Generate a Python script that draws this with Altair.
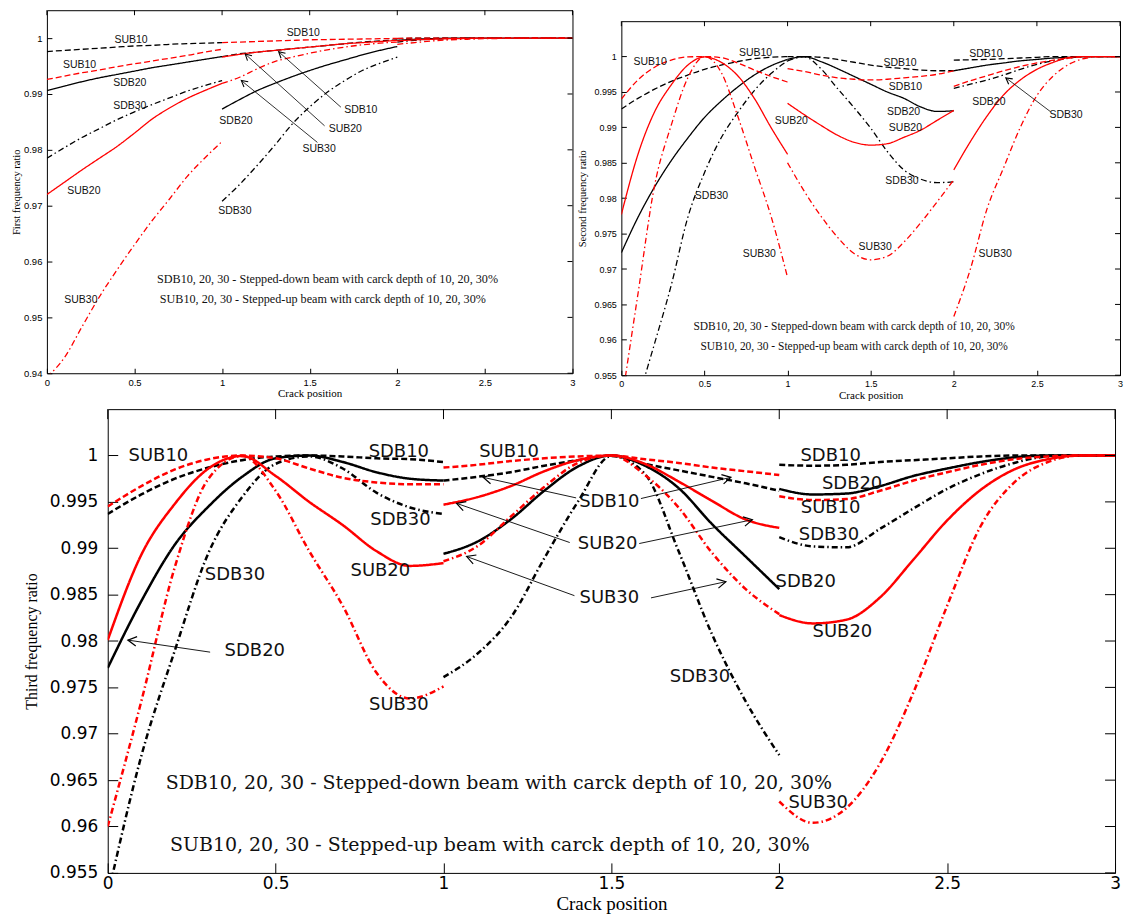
import math
import altair as alt
import pandas as pd

# ---------------- data ----------------
X_SEG1 = [0.0, 0.1, 0.2, 0.3, 0.4, 0.5, 0.6, 0.7, 0.8, 0.9, 1.0]
X_SEG2 = [1.0, 1.1, 1.2, 1.3, 1.4, 1.5, 1.6, 1.7, 1.8, 1.9, 2.0]
X_SEG3 = [2.0, 2.1, 2.2, 2.3, 2.4, 2.5, 2.6, 2.7, 2.8, 2.9, 3.0]
X_TICKS = [0, 0.5, 1, 1.5, 2, 2.5, 3]
Y_TICKS_1 = [0.94, 0.95, 0.96, 0.97, 0.98, 0.99, 1.0]
Y_TICKS_23 = [0.955, 0.96, 0.965, 0.97, 0.975, 0.98, 0.985, 0.99, 0.995, 1.0]
SERIES = ["SDB10", "SDB20", "SDB30", "SUB10", "SUB20", "SUB30"]

# First frequency ratio (segments 0-1, 1-2, 2-3)
F1_SDB10 = [0.9976, 0.9978, 0.9980, 0.9982, 0.9984, 0.9986, 0.9987, 0.9989, 0.9990, 0.9991, 0.9992,
            0.9967, 0.9972, 0.9975, 0.9978, 0.9981, 0.9984, 0.9987, 0.9990, 0.9993, 0.9995, 0.9997,
            0.9999, 1.0, 1.0, 1.0, 1.0, 1.0, 1.0, 1.0, 1.0, 1.0, 1.0]
F1_SDB20 = [0.9906, 0.9914, 0.9922, 0.9929, 0.9935, 0.9941, 0.9947, 0.9952, 0.9957, 0.9962, 0.9967,
            0.9873, 0.9890, 0.9906, 0.9919, 0.9931, 0.9942, 0.9952, 0.9961, 0.9970, 0.9978, 0.9985,
            0.9996, 0.9998, 0.9999, 1.0, 1.0, 1.0, 1.0, 1.0, 1.0, 1.0, 1.0]
F1_SDB30 = [0.9785, 0.9804, 0.9822, 0.9838, 0.9854, 0.9868, 0.9881, 0.9893, 0.9905, 0.9915, 0.9924,
            0.9708, 0.9738, 0.9772, 0.9808, 0.9846, 0.9877, 0.9903, 0.9924, 0.9942, 0.9955, 0.9966,
            0.9993, 0.9996, 0.9998, 0.9999, 1.0, 1.0, 1.0, 1.0, 1.0, 1.0, 1.0]
F1_SUB10 = [0.9926, 0.9932, 0.9938, 0.9943, 0.9949, 0.9954, 0.9959, 0.9964, 0.9969, 0.9975, 0.9980,
            0.9992, 0.9993, 0.9994, 0.9995, 0.9996, 0.9997, 0.99975, 0.9998, 0.99985, 0.9999, 0.99995,
            0.99995, 1.0, 1.0, 1.0, 1.0, 1.0, 1.0, 1.0, 1.0, 1.0, 1.0]
F1_SUB20 = [0.9720, 0.9742, 0.9764, 0.9785, 0.9806, 0.9830, 0.9855, 0.9875, 0.9892, 0.9906, 0.9919,
            0.9966, 0.9971, 0.9975, 0.9978, 0.9981, 0.9984, 0.9987, 0.9990, 0.9992, 0.9994, 0.9996,
            0.9995, 0.9997, 0.9998, 0.9999, 0.99995, 1.0, 1.0, 1.0, 1.0, 1.0, 1.0]
F1_SUB30 = [0.9393, 0.9428, 0.9483, 0.9537, 0.9585, 0.9630, 0.9673, 0.9712, 0.9752, 0.9785, 0.9815,
            0.9919, 0.9930, 0.9945, 0.9958, 0.9966, 0.9973, 0.9979, 0.9984, 0.9988, 0.9991, 0.9993,
            0.9989, 0.9992, 0.9995, 0.9997, 0.9998, 0.9999, 0.99995, 1.0, 1.0, 1.0, 1.0]

# Second frequency ratio
F2_SDB10 = [0.9926, 0.9941, 0.9954, 0.9965, 0.9974, 0.9982, 0.9988, 0.9993, 0.9997, 0.9999, 1.0,
            1.0, 1.0, 0.9999, 0.9996, 0.9992, 0.9988, 0.9985, 0.9983, 0.9981, 0.9980, 0.9980,
            0.9995, 0.99955, 0.9996, 0.9997, 0.9998, 0.9999, 1.0, 1.0, 1.0, 1.0, 1.0]
F2_SDB20 = [0.9723, 0.9773, 0.9816, 0.9853, 0.9885, 0.9914, 0.9937, 0.9957, 0.9974, 0.9987, 0.9996,
            0.9996, 1.0, 0.9993, 0.9983, 0.9972, 0.9961, 0.9950, 0.9941, 0.9929, 0.99225, 0.99235,
            0.9980, 0.9984, 0.9988, 0.9991, 0.9994, 0.9996, 0.9998, 0.9999, 1.0, 1.0, 1.0]
F2_SDB30 = [0.9430, 0.9515, 0.9595, 0.9677, 0.9773, 0.9836, 0.9885, 0.9921, 0.9952, 0.9976, 0.9994,
            0.9994, 0.99995, 0.9983, 0.9955, 0.9928, 0.9899, 0.9866, 0.9840, 0.9827, 0.9822, 0.9823,
            0.9955, 0.9961, 0.9967, 0.9974, 0.9982, 0.9989, 0.9994, 0.9998, 1.0, 1.0, 1.0]
F2_SUB10 = [0.9940, 0.9967, 0.9985, 0.9995, 0.99995, 1.0, 0.99985, 0.9991, 0.9981, 0.9972, 0.9964,
            0.9983, 0.9979, 0.9974, 0.9970, 0.9968, 0.9967, 0.9968, 0.9970, 0.9972, 0.9975, 0.9980,
            0.9958, 0.9966, 0.9973, 0.9980, 0.9986, 0.9991, 0.9995, 0.9998, 1.0, 1.0, 1.0]
F2_SUB20 = [0.9777, 0.9862, 0.9922, 0.9960, 0.9988, 0.99995, 0.9992, 0.9973, 0.9941, 0.9900, 0.9862,
            0.9934, 0.9918, 0.9903, 0.9889, 0.9879, 0.9875, 0.9877, 0.9886, 0.9896, 0.9910, 0.9924,
            0.9840, 0.9880, 0.9916, 0.9946, 0.9967, 0.9982, 0.9992, 0.9999, 1.0, 1.0, 1.0]
F2_SUB30 = [0.9510, 0.9665, 0.9818, 0.9903, 0.9970, 1.0, 0.9978, 0.9916, 0.9845, 0.9775, 0.9688,
            0.9850, 0.9810, 0.9775, 0.9745, 0.9722, 0.9713, 0.9718, 0.9738, 0.9765, 0.9795, 0.9826,
            0.9633, 0.9700, 0.9785, 0.9843, 0.9900, 0.9945, 0.9973, 0.9990, 0.9998, 1.0, 1.0]

# Third frequency ratio
F3_SDB10 = [0.9937, 0.9958, 0.9975, 0.9987, 0.9995, 0.9999, 1.0, 0.9999, 0.9997, 0.9996, 0.9993,
            0.9973, 0.9977, 0.9982, 0.9989, 0.9995, 1.0, 0.9991, 0.9984, 0.9977, 0.9970, 0.9962,
            0.9990, 0.9989, 0.9990, 0.9993, 0.9995, 0.9997, 0.9999, 1.0, 1.0, 1.0, 1.0]
F3_SDB20 = [0.9771, 0.9843, 0.9904, 0.9945, 0.9977, 0.9997, 1.0, 0.9993, 0.9982, 0.9975, 0.9973,
            0.9894, 0.9907, 0.9931, 0.9962, 0.9988, 1.0, 0.9989, 0.9965, 0.9926, 0.9891, 0.9856,
            0.9964, 0.9958, 0.9959, 0.9967, 0.9978, 0.9986, 0.9993, 0.9998, 1.0, 1.0, 1.0]
F3_SDB30 = [0.9525, 0.9676, 0.9790, 0.9895, 0.9955, 0.9991, 0.9999, 0.9986, 0.9960, 0.9944, 0.9937,
            0.9761, 0.9786, 0.9825, 0.9889, 0.9950, 0.99995, 0.9980, 0.9897, 0.9807, 0.9735, 0.9677,
            0.9912, 0.9902, 0.9901, 0.9921, 0.9943, 0.9964, 0.9980, 0.9992, 0.9999, 1.0, 1.0]
F3_SUB10 = [0.9945, 0.9967, 0.9985, 0.9996, 1.0, 0.9997, 0.9986, 0.9976, 0.9971, 0.9969, 0.9969,
            0.9987, 0.9990, 0.9994, 0.9997, 0.9999, 1.0, 0.9996, 0.9992, 0.9987, 0.9983, 0.9979,
            0.9956, 0.9952, 0.9953, 0.9962, 0.9973, 0.9982, 0.9990, 0.9996, 0.9999, 1.0, 1.0]
F3_SUB20 = [0.9801, 0.9893, 0.9948, 0.9986, 0.99995, 0.9978, 0.9950, 0.9925, 0.9897, 0.9881, 0.9884,
            0.9947, 0.9955, 0.9967, 0.9983, 0.9995, 1.0, 0.9991, 0.9972, 0.9951, 0.9931, 0.9922,
            0.9828, 0.9819, 0.9823, 0.9847, 0.9888, 0.9930, 0.9963, 0.9985, 0.9996, 1.0, 1.0]
F3_SUB30 = [0.9600, 0.9735, 0.9880, 0.9975, 0.99995, 0.9962, 0.9897, 0.9838, 0.9766, 0.9738, 0.9751,
            0.9886, 0.9902, 0.9934, 0.9966, 0.9992, 1.0, 0.9979, 0.9944, 0.9895, 0.9856, 0.9829,
            0.9627, 0.9604, 0.9620, 0.9668, 0.9745, 0.9838, 0.9924, 0.9971, 0.9993, 1.0, 1.0]

CAPTION_1 = "SDB10, 20, 30 - Stepped-down beam with carck depth of 10, 20, 30%"
CAPTION_2 = "SUB10, 20, 30 - Stepped-up beam with carck depth of 10, 20, 30%"

LABELS_1 = [("SUB10", 0.48, 0.99964), ("SUB10", 0.186, 0.99518), ("SDB20", 0.473, 0.99204),
            ("SDB30", 0.473, 0.98787), ("SUB20", 0.211, 0.9727), ("SUB30", 0.194, 0.95308),
            ("SDB10", 1.463, 1.00096), ("SDB20", 1.079, 0.98508), ("SDB30", 1.073, 0.96913),
            ("SDB10", 1.792, 0.98705), ("SUB20", 1.703, 0.98377), ("SUB30", 1.554, 0.9802)]
CAPTIONS_1 = [(CAPTION_1, 1.602, 0.95695), (CAPTION_2, 1.575, 0.95326)]
ARROWS_1 = [(1.678, 0.98764, 1.323, 0.99757), (1.585, 0.98430, 1.132, 0.99715),
            (1.544, 0.98133, 1.110, 0.99240)]

LABELS_2 = [("SUB10", 0.173, 0.99930), ("SUB10", 0.807, 1.00056), ("SDB10", 1.677, 0.99911),
            ("SDB10", 1.709, 0.9957), ("SDB20", 1.698, 0.99213), ("SUB20", 1.709, 0.98997),
            ("SUB20", 1.022, 0.99086), ("SDB30", 1.688, 0.98242), ("SDB30", 0.542, 0.98031),
            ("SUB30", 0.83, 0.97216), ("SUB30", 1.527, 0.97314), ("SUB30", 2.249, 0.97216),
            ("SDB10", 2.193, 1.00038), ("SDB20", 2.211, 0.99353), ("SDB30", 2.675, 0.9917)]
CAPTIONS_2 = [(CAPTION_1, 1.40, 0.96185), (CAPTION_2, 1.40, 0.95904)]
ARROWS_2 = [(2.584, 0.99218, 2.313, 0.99700)]

LABELS_3 = [("SUB10", 0.151, 0.99993), ("SDB10", 0.867, 1.00038), ("SUB10", 1.195, 1.00038),
            ("SDB30", 0.872, 0.99302), ("SDB30", 0.379, 0.98709), ("SUB20", 0.812, 0.98755),
            ("SDB20", 0.438, 0.97893), ("SUB30", 0.867, 0.97307), ("SDB10", 1.494, 0.99494),
            ("SUB20", 1.489, 0.99051), ("SUB30", 1.494, 0.98465), ("SDB10", 2.153, 0.99993),
            ("SDB20", 2.217, 0.99694), ("SUB10", 2.153, 0.99438), ("SDB30", 2.148, 0.99143),
            ("SDB20", 2.079, 0.98633), ("SUB20", 2.188, 0.98096), ("SDB30", 1.764, 0.97614),
            ("SUB30", 2.116, 0.9625)]
CAPTIONS_3 = [(CAPTION_1, 1.165, 0.9647), (CAPTION_2, 1.138, 0.95805)]
ARROWS_3 = [(0.305, 0.9788, 0.06, 0.9801), (1.395, 0.99543, 1.118, 0.99765),
            (1.588, 0.99536, 1.856, 0.99765), (1.376, 0.99062, 1.039, 0.99484),
            (1.583, 0.99051, 1.920, 0.99308), (1.390, 0.98489, 1.069, 0.98911),
            (1.618, 0.98465, 1.841, 0.98640)]

STYLE = {"10": "dashed", "20": "solid", "30": "dashdot"}
ARROW_PATH = "M -1 -0.55 L 0 0 L -1 0.55"
YMAX = 1.005


def line_frame(arrs):
    rows = []
    for name, ys in zip(SERIES, arrs):
        for k, xs in enumerate([X_SEG1, X_SEG2, X_SEG3]):
            for x, y in zip(xs, ys[k * 11:(k + 1) * 11]):
                rows.append({"beam": name[:3], "style": STYLE[name[3:]],
                             "seg": f"{name}_{k}", "x": x, "y": y})
    return pd.DataFrame(rows)


def make_panel(arrs, labels, captions, arrows, c):
    W, H, ymin = c["W"], c["H"], c["ymin"]
    xs = alt.Scale(domain=[0, 3], nice=False, zero=False)
    ysc = alt.Scale(domain=[ymin, YMAX], nice=False, zero=False)
    ts = c["ts"]
    df = line_frame(arrs)
    dash_scale = alt.Scale(domain=["solid", "dashed", "dashdot"],
                           range=[[1, 0], c["dash"], c["dashdot"]])
    xax = alt.Axis(orient="bottom", values=X_TICKS, format=".3~f", title="Crack position",
                   offset=-ts, tickSize=ts, domain=False, grid=False, tickColor="black",
                   labelFont=c["tfont"], labelFontSize=c["tsize"], labelColor="black",
                   labelPadding=c["xpad"], labelFlush=False, labelOverlap=False,
                   titleFont="Liberation Serif", titleFontSize=c["xtsize"], titleFontWeight="normal",
                   titleColor="black", titlePadding=c["xtpad"])
    yax = alt.Axis(orient="left", values=c["yticks"], format=".3~f", title=c["ytitle"],
                   offset=-ts, tickSize=ts, domain=False, grid=False, tickColor="black",
                   labelFont=c["tfont"], labelFontSize=c["tsize"], labelColor="black",
                   labelPadding=c["ypad"], labelFlush=False, labelOverlap=False,
                   titleFont="Liberation Serif", titleFontSize=c["ytsize"], titleFontWeight="normal",
                   titleColor="black", titlePadding=c["ytpad"])

    def lines(beam, color, with_axes):
        return alt.Chart(df[df["beam"] == beam]).mark_line(
            clip=True, color=color, strokeWidth=c["lw"], interpolate="monotone"
        ).encode(
            x=alt.X("x:Q", scale=xs, axis=xax if with_axes else None),
            y=alt.Y("y:Q", scale=ysc, axis=yax if with_axes else None),
            strokeDash=alt.StrokeDash("style:N", scale=dash_scale, legend=None),
            detail="seg:N",
        )

    black = lines("SDB", "#000000", True)
    red = lines("SUB", "#ff0000", False)

    # inward ticks on the top and right frame edges
    top_ticks = alt.Chart(pd.DataFrame({"v": X_TICKS})).mark_rule(
        color="black", strokeWidth=1).encode(
        x=alt.X("v:Q", scale=xs, axis=None), y=alt.value(0), y2=alt.value(ts))
    right_ticks = alt.Chart(pd.DataFrame({"v": c["yticks"]})).mark_rule(
        color="black", strokeWidth=1).encode(
        y=alt.Y("v:Q", scale=ysc, axis=None), x=alt.value(W - ts), x2=alt.value(W))

    lab_df = pd.DataFrame(labels, columns=["t", "x", "y"])
    texts = alt.Chart(lab_df).mark_text(
        font=c["afont"], fontSize=c["asize"], color="#111111", align="center", baseline="middle"
    ).encode(x=alt.X("x:Q", scale=xs, axis=None), y=alt.Y("y:Q", scale=ysc, axis=None), text="t:N")

    cap_df = pd.DataFrame(captions, columns=["t", "x", "y"])
    caps = alt.Chart(cap_df).mark_text(
        font=c["cfont"], fontSize=c["csize"], color="#111111", align="center", baseline="middle"
    ).encode(x=alt.X("x:Q", scale=xs, axis=None), y=alt.Y("y:Q", scale=ysc, axis=None), text="t:N")

    arr_rows = []
    for x1, y1, x2, y2 in arrows:
        dx = (x2 - x1) / 3.0 * W
        dy = -(y2 - y1) / (YMAX - ymin) * H
        ang = math.degrees(math.atan2(dy, dx)) % 360
        arr_rows.append({"x1": x1, "y1": y1, "x2": x2, "y2": y2, "ang": ang})
    arr_df = pd.DataFrame(arr_rows)
    shafts = alt.Chart(arr_df).mark_rule(color="black", strokeWidth=c["aw"]).encode(
        x=alt.X("x1:Q", scale=xs, axis=None), y=alt.Y("y1:Q", scale=ysc, axis=None),
        x2="x2:Q", y2="y2:Q")
    heads = alt.Chart(arr_df).mark_point(
        shape=ARROW_PATH, filled=False, stroke="black", strokeWidth=c["aw"] + 0.3,
        size=c["hs"], opacity=1
    ).encode(x=alt.X("x2:Q", scale=xs, axis=None), y=alt.Y("y2:Q", scale=ysc, axis=None),
             angle=alt.Angle("ang:Q", scale=None))

    return alt.layer(black, red, top_ticks, right_ticks, shafts, heads, texts, caps).resolve_scale(
        x="shared", y="shared").resolve_axis(x="independent", y="independent").properties(
        width=W, height=H)


def spacer(w, h):
    return alt.Chart(pd.DataFrame({"v": [0]})).mark_point(
        opacity=0, size=0, strokeWidth=0, filled=True).encode(
        x=alt.X("v:Q", axis=None), y=alt.Y("v:Q", axis=None)
    ).properties(width=w, height=h, view=alt.ViewBackground(stroke="transparent"))


top_cfg = dict(ts=5, lw=1.3, dash=[6, 3], dashdot=[6, 3, 1.5, 3], tfont="Liberation Sans",
               afont="Liberation Sans", asize=10.5, cfont="Liberation Serif", aw=0.8, hs=150,
               xpad=4, ypad=5, xtpad=1)
c1 = make_panel([F1_SDB10, F1_SDB20, F1_SDB30, F1_SUB10, F1_SUB20, F1_SUB30],
                LABELS_1, CAPTIONS_1, ARROWS_1,
                dict(top_cfg, W=527, H=364, ymin=0.94, yticks=Y_TICKS_1, tsize=9.5,
                     ytitle="First frequency ratio", xtsize=11, ytsize=10.5, ytpad=2, csize=12.2))
c2 = make_panel([F2_SDB10, F2_SDB20, F2_SDB30, F2_SUB10, F2_SUB20, F2_SUB30],
                LABELS_2, CAPTIONS_2, ARROWS_2,
                dict(top_cfg, W=500, H=355, ymin=0.955, yticks=Y_TICKS_23, tsize=9,
                     ytitle="Second frequency ratio", xtsize=11, ytsize=10.5, ytpad=6, csize=11.5))
c3 = make_panel([F3_SDB10, F3_SDB20, F3_SDB30, F3_SUB10, F3_SUB20, F3_SUB30],
                LABELS_3, CAPTIONS_3, ARROWS_3,
                dict(ts=10, lw=2.5, dash=[10, 5], dashdot=[8, 4, 2, 4], tfont="DejaVu Sans",
                     afont="DejaVu Sans", asize=18, cfont="DejaVu Serif", csize=19, aw=0.9, hs=300,
                     xpad=3, ypad=10, xtpad=3, W=1010, H=465, ymin=0.955, yticks=Y_TICKS_23,
                     tsize=17, ytitle="Third frequency ratio", xtsize=19, ytsize=16, ytpad=10))

row1 = alt.hconcat(spacer(1, 1),
                   alt.hconcat(c1, alt.vconcat(spacer(1, 1), c2, spacing=8), spacing=0),
                   spacing=0)
row2 = alt.hconcat(spacer(1, 1), c3, spacing=11)
chart = alt.vconcat(row1, row2, spacing=7).properties(
    padding={"left": 0, "top": 0, "right": 0, "bottom": 0},
    background="white",
).configure_view(stroke="black", strokeWidth=1)

chart.save("out.html", embed_options={"renderer": "svg", "actions": False})
